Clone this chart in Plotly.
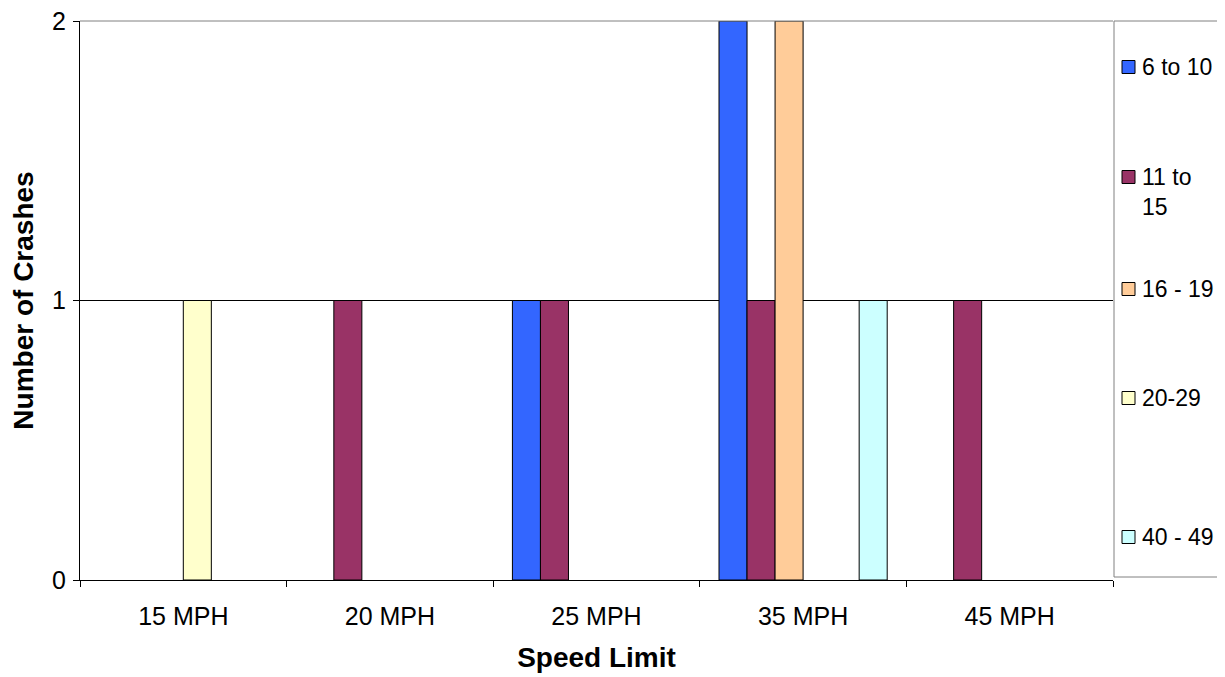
import plotly.graph_objects as go

categories = ["15 MPH", "20 MPH", "25 MPH", "35 MPH", "45 MPH"]
series_names = ["6 to 10", "11 to<br>15", "16 - 19", "20-29", "30-39", "40 - 49"]
s_6_10 = [0, 0, 1, 2, 0]
s_11_15 = [0, 1, 1, 1, 1]
s_16_19 = [0, 0, 0, 2, 0]
s_20_29 = [1, 0, 0, 0, 0]
s_30_39 = [0, 0, 0, 0, 0]
s_40_49 = [0, 0, 0, 1, 0]
series_values = [s_6_10, s_11_15, s_16_19, s_20_29, s_30_39, s_40_49]
colors = ["#3366FF", "#993366", "#FFCC99", "#FFFFCC", "#FFFFFF", "#CCFFFF"]
in_legend = [True, True, True, True, False, True]
legend_py = [67, 177, 289, 398, None, 537]  # page-pixel y of legend rows (first text line)

W, H = 1225, 677
OFF = 8  # the page body margin shifts the figure by 8px
# target plot area in page pixels
PL, PR, PT, PB = 80, 1113, 21, 580
L, T = PL - OFF, PT - OFF
R = W - (PR - OFF)
B = H - (PB - OFF)
pw, ph = W - L - R, H - T - B

FAM = "Liberation Sans, Arial, sans-serif"
font = dict(family=FAM, color="black")

fig = go.Figure()
for name, vals, col, show in zip(series_names, series_values, colors, in_legend):
    fig.add_trace(go.Bar(
        x=categories, y=vals, name=name,
        marker=dict(color=col,
                    line=dict(color="black", width=[1 if (v and show) else 0 for v in vals])),
        showlegend=False,
    ))

def px_x(px):
    return (px - PL) / pw

def px_y(py):
    return (PB - py) / ph

fig.update_layout(
    width=W, height=H,
    margin=dict(l=L, r=R, t=T, b=B, autoexpand=False),
    paper_bgcolor="white", plot_bgcolor="white",
    barmode="group", bargap=0.186, bargroupgap=0,
    font=dict(size=24, **font),
    showlegend=False,
    xaxis=dict(
        type="category", tickson="boundaries", ticks="outside", ticklen=6,
        tickcolor="black", showline=True, linecolor="black", linewidth=1,
        showgrid=False, tickfont=dict(size=25, **font), ticklabelstandoff=14,
        ticklabeloverflow="allow",
        title=dict(text="<b>Speed Limit</b>", font=dict(size=28, **font), standoff=18),
    ),
    yaxis=dict(
        range=[0, 2], tickvals=[0, 1, 2], ticks="outside", ticklen=6,
        tickcolor="black", showline=True, linecolor="black", linewidth=1,
        showgrid=True, gridcolor="black", gridwidth=1, zeroline=False,
        tickfont=dict(size=25, **font), ticklabelstandoff=2,
        ticklabeloverflow="allow",
        title=dict(text="<b>Number of Crashes</b>", font=dict(size=28, **font), standoff=15),
    ),
)

# plot-area top border (gray)
fig.add_shape(type="line", xref="paper", yref="paper", x0=0, x1=1, y0=1, y1=1,
              line=dict(color="#808080", width=1), layer="above")

# legend box border
lx, rx = px_x(1114), px_x(W + 20)
ty, by = px_y(PT), px_y(577)
for (x0, y0, x1, y1) in [(lx, by, lx, ty), (lx, ty, rx, ty), (lx, by, rx, by)]:
    fig.add_shape(type="line", xref="paper", yref="paper", x0=x0, x1=x1, y0=y0, y1=y1,
                  line=dict(color="#808080", width=1))

# legend entries
for name, col, show, py in zip(series_names, colors, in_legend, legend_py):
    if not show:
        continue
    fig.add_shape(type="rect", xref="paper", yref="paper",
                  x0=px_x(1122), x1=px_x(1135), y0=px_y(py + 6.5), y1=px_y(py - 6.5),
                  fillcolor=col, line=dict(color="black", width=1))
    fig.add_annotation(xref="paper", yref="paper", x=px_x(1140), y=px_y(py - 15),
                       xanchor="left", yanchor="top", align="left", showarrow=False,
                       text=name, font=dict(size=23, **font))

fig.write_html("out.html")
